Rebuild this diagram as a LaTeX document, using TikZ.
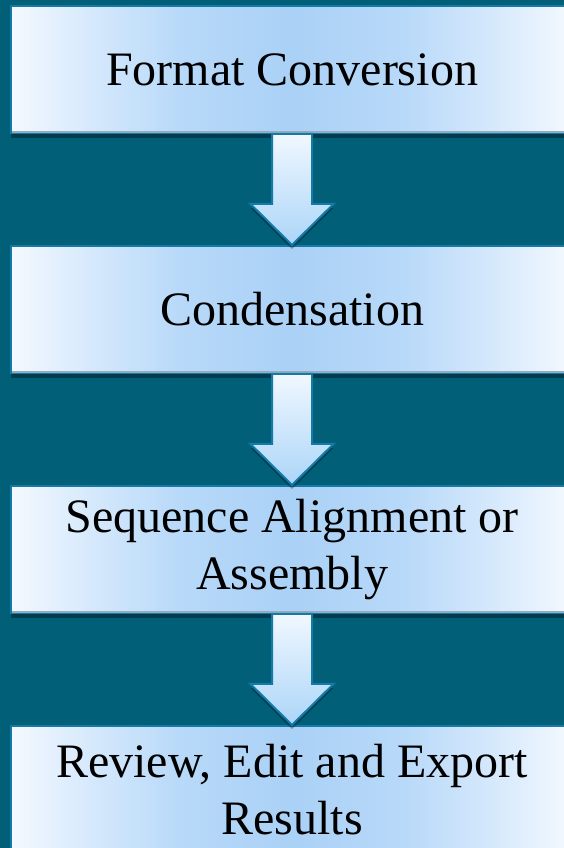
\documentclass[tikz,border=0pt]{standalone}
\usepackage{fontspec}
\setmainfont{Liberation Serif}
\usetikzlibrary{calc,shadows}
\definecolor{bgteal}{RGB}{2,95,120}
\definecolor{boxedge}{RGB}{20,122,168}
\definecolor{boxlight}{RGB}{244,249,255}
\definecolor{boxq}{RGB}{214,233,252}
\definecolor{boxmidb}{RGB}{184,217,249}
\definecolor{boxmid}{RGB}{170,209,246}
\definecolor{boxbottom}{RGB}{150,172,188}
\definecolor{arrowtop}{RGB}{240,248,255}
\definecolor{arrowbot}{RGB}{172,213,248}
\pgfdeclarehorizontalshading{boxshade}{100bp}{%
  color(0bp)=(boxlight); color(25bp)=(boxlight); color(32bp)=(boxq);
  color(40bp)=(boxmidb); color(50bp)=(boxmid); color(60bp)=(boxmidb);
  color(68bp)=(boxq); color(75bp)=(boxlight); color(100bp)=(boxlight)}
\tikzset{
  stepbox/.style={draw=boxedge, line width=2pt, shading=boxshade,
    minimum width=562pt, minimum height=127pt, inner sep=0pt,
    align=center, font=\fontsize{48}{57}\selectfont,
    drop shadow={shadow xshift=0pt, shadow yshift=-5pt, opacity=0.35, fill=black}},
  flowarrow/.style={draw=boxedge, line width=2pt, line join=miter,
    top color=arrowtop, bottom color=arrowbot,
    drop shadow={shadow xshift=0pt, shadow yshift=-4pt, opacity=0.3, fill=black}},
  baseline line/.style={draw=boxbottom, line width=2pt}
}
\begin{document}
\begin{tikzpicture}[x=1pt,y=1pt]
  \fill[bgteal] (0,0) rectangle (564,848);
  \useasboundingbox (0,0) rectangle (564,848);

  \node[stepbox] (b1) at (292,778.5) {Format Conversion};
  \node[stepbox] (b2) at (292,538.5) {Condensation};
  \node[stepbox] (b3) at (292,298.5) {Sequence Alignment or\\Assembly};
  \node[stepbox] (b4) at (292,58.5) {Review, Edit and Export\\Results};

  \foreach \b in {b1,b2,b3}{
    \draw[baseline line] ($(\b.south west)+(2,2)$) -- ($(\b.south east)+(-2,2)$);
  }

  \foreach \a/\b in {b1/b2,b2/b3,b3/b4}{
    \path[flowarrow] ($(\a.south)+(-20,0)$) -- ($(\b.north)+(-20,41)$)
      -- ($(\b.north)+(-41.5,41)$) -- (\b.north) -- ($(\b.north)+(41.5,41)$)
      -- ($(\b.north)+(20,41)$) -- ($(\a.south)+(20,0)$) -- cycle;
  }
\end{tikzpicture}
\end{document}
